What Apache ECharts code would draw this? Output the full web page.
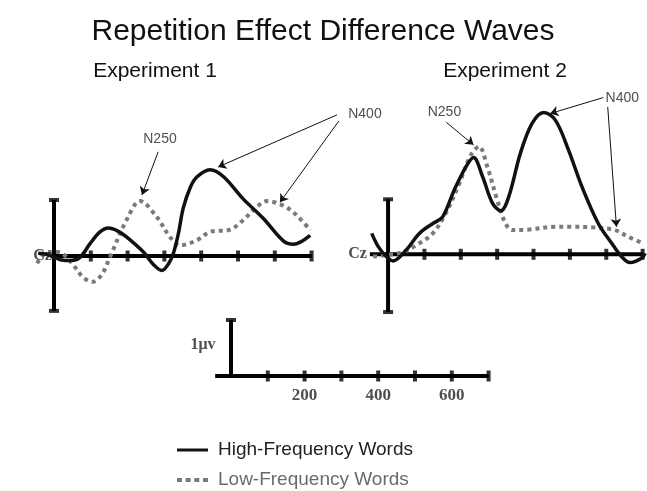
<!DOCTYPE html>
<html>
<head>
<meta charset="UTF-8">
<title>Repetition Effect Difference Waves</title>
<script src="https://cdn.jsdelivr.net/npm/echarts@6/dist/echarts.min.js"></script>
<style>
    body { margin: 0; background: #fff; }
    #main { width: 647px; height: 491px; }
</style>
</head>
<body>
<div id="main"></div>
<script>
    // difference waves: time (ms), amplitude (uV)
    var exp1HighTime = [-43, -20, 0, 20, 45, 70, 98, 125, 148, 175, 197, 243, 270, 293, 310, 324, 338, 351, 370, 388, 424, 460, 514, 569, 623, 650, 696];
    var exp1High     = [0.05, 0.03, -0.02, -0.07, -0.08, -0.03, 0.22, 0.43, 0.5, 0.44, 0.34, 0.07, -0.15, -0.26, -0.15, 0.04, 0.4, 0.85, 1.22, 1.41, 1.54, 1.42, 1.02, 0.67, 0.27, 0.21, 0.37];
    var exp1LowTime  = [-46, -16, 10, 22, 49, 79, 105, 130, 152, 197, 234, 279, 315, 342, 388, 424, 478, 514, 551, 578, 623, 659, 696];
    var exp1Low      = [-0.13, 0.07, 0.07, 0.05, -0.13, -0.38, -0.46, -0.33, -0.02, 0.64, 0.98, 0.7, 0.34, 0.19, 0.28, 0.43, 0.47, 0.64, 0.875, 0.98, 0.9, 0.73, 0.46];

    var exp2HighTime = [-45, -27, -5, 14, 50, 86, 123, 150, 182, 214, 235, 260, 287, 310, 332, 364, 396, 428, 460, 496, 533, 578, 615, 642, 665, 697, 707];
    var exp2High     = [0.38, 0.14, -0.04, -0.12, 0.08, 0.38, 0.56, 0.68, 1.17, 1.59, 1.76, 1.41, 0.93, 0.79, 1.05, 1.84, 2.38, 2.58, 2.44, 1.9, 1.23, 0.56, 0.2, -0.04, -0.15, -0.07, 0.02];
    var exp2LowTime  = [-41, 0, 41, 86, 123, 159, 196, 228, 250, 273, 300, 323, 342, 387, 460, 505, 560, 624, 660, 701];
    var exp2Low      = [-0.04, -0.01, 0.04, 0.2, 0.38, 0.75, 1.29, 1.81, 1.96, 1.59, 0.99, 0.56, 0.44, 0.45, 0.5, 0.5, 0.49, 0.44, 0.32, 0.2];

    var tickMs = [100, 200, 300, 400, 500, 600, 700];
    var scaleLabels = [200, 400, 600];

    var HIGH = 'High-Frequency Words';
    var LOW = 'Low-Frequency Words';
    var sans = '"Liberation Sans", Arial, sans-serif';
    var serif = '"Liberation Serif", "Times New Roman", serif';
    var highColor = '#111';
    var lowColor = '#7a7a7a';

    function pairs(t, v) {
        return t.map(function (x, i) { return [x, v[i]]; });
    }

    // axis drawn like the original: thick line, crossing ticks, end caps
    function axisSeries(g, xStart, yBottom, yTop, caps) {
        return [
            { type: 'line', xAxisIndex: g, yAxisIndex: g, data: [[xStart, 0], [700, 0]], symbol: 'none', silent: true, clip: false,
              lineStyle: { color: '#000', width: 4 }, z: 2 },
            { type: 'line', xAxisIndex: g, yAxisIndex: g, data: [[0, yBottom], [0, yTop]], symbol: 'none', silent: true, clip: false,
              lineStyle: { color: '#000', width: 4 }, z: 2 },
            { type: 'scatter', xAxisIndex: g, yAxisIndex: g, data: tickMs.map(function (t) { return [t, 0]; }), symbol: 'rect',
              symbolSize: [4, 11], itemStyle: { color: '#000' }, silent: true, clip: false, z: 2 },
            { type: 'scatter', xAxisIndex: g, yAxisIndex: g, data: caps, symbol: 'rect',
              symbolSize: [10, 4], itemStyle: { color: '#000' }, silent: true, clip: false, z: 2 }
        ];
    }

    function waves(g, hi, lo) {
        return [
            { name: LOW, type: 'line', xAxisIndex: g, yAxisIndex: g, data: lo, symbol: 'none', smooth: 0.35, clip: false,
              itemStyle: { color: lowColor },
              lineStyle: { color: lowColor, width: 4, type: [4, 4], cap: 'butt' }, z: 3 },
            { name: HIGH, type: 'line', xAxisIndex: g, yAxisIndex: g, data: hi, symbol: 'none', smooth: 0.35, clip: false,
              itemStyle: { color: highColor },
              lineStyle: { color: highColor, width: 3.5 }, z: 4 }
        ];
    }

    // text notes and arrows, placed in the panel's data coordinates
    // text entry: [x, y, text, position, distance, fontSize, fontWeight, fontFamily]
    function notes(g, texts, arrows) {
        return {
            type: 'scatter', xAxisIndex: g, yAxisIndex: g, symbolSize: 0, silent: true, clip: false, z: 5,
            data: texts.map(function (t) {
                return { value: [t[0], t[1]], label: { show: true, formatter: t[2], position: t[3] || 'inside',
                    distance: t[4] || 0, color: '#222', fontFamily: t[7] || sans, fontSize: t[5] || 14,
                    fontWeight: t[6] || 'normal' } };
            }),
            markLine: {
                silent: true, symbol: ['none', 'arrow'], symbolSize: 8, animation: false,
                label: { show: false },
                lineStyle: { color: '#111', width: 1, type: 'solid' },
                data: arrows.map(function (a) { return [{ coord: a[0] }, { coord: a[1] }]; })
            }
        };
    }

    var chart = echarts.init(document.getElementById('main'), null, { renderer: 'canvas' });

    var hiddenX = { type: 'value', show: false };
    var hiddenY = { type: 'value', show: false };

    var series = []
        .concat(axisSeries(0, -8, -0.98, 1, [[0, 1], [0, -0.98]]))
        .concat(waves(0, pairs(exp1HighTime, exp1High), pairs(exp1LowTime, exp1Low)))
        .concat([notes(0,
            [[288, 2.09, 'N250'], [845, 2.54, 'N400'], [-6, 0, 'Cz', 'left', 0, 16, 'bold', serif]],
            [[[283, 1.86], [239, 1.09]], [[769, 2.52], [446, 1.59]], [[774, 2.41], [614, 0.96]]])])
        .concat(axisSeries(1, -50, -1.05, 1, [[0, 1], [0, -1.05]]))
        .concat(waves(1, pairs(exp2HighTime, exp2High), pairs(exp2LowTime, exp2Low)))
        .concat([notes(1,
            [[155, 2.59, 'N250'], [644, 2.84, 'N400'], [-50, 0, 'Cz', 'left', 3, 16, 'bold', serif]],
            [[[160, 2.40], [235, 1.99]], [[592, 2.85], [446, 2.56]], [[604, 2.68], [628, 0.50]]])])
        .concat(axisSeries(2, -43, 0, 1, [[0, 1]]))
        .concat([notes(2,
            scaleLabels.map(function (v) { return [v, 0, String(v), 'bottom', 11, 17, 'bold', serif]; })
                .concat([[-76, 0.55, '1\u03bcv', 'inside', 0, 16, 'bold', serif]]),
            [])]);

    var option = {
        animation: false,
        backgroundColor: '#fff',
        title: [
            { text: 'Repetition Effect Difference Waves', left: 323, top: 17, padding: 0, textAlign: 'center',
              textStyle: { fontFamily: sans, fontSize: 30, fontWeight: 'normal', color: '#111' } },
            { text: 'Experiment 1', left: 155, top: 61, padding: 0, textAlign: 'center',
              textStyle: { fontFamily: sans, fontSize: 21, fontWeight: 'normal', color: '#111' } },
            { text: 'Experiment 2', left: 505, top: 61, padding: 0, textAlign: 'center',
              textStyle: { fontFamily: sans, fontSize: 21, fontWeight: 'normal', color: '#111' } }
        ],
        legend: {
            orient: 'vertical', left: 177, top: 439, height: 80, padding: 0,
            itemWidth: 31, itemHeight: 4, itemGap: 8,
            selectedMode: false,
            textStyle: { fontFamily: sans, fontSize: 19, lineHeight: 22, padding: [0, 0, 0, 5] },
            data: [
                { name: HIGH, icon: 'path://M0,0h31v3h-31z', itemStyle: { color: highColor },
                  textStyle: { color: '#222' } },
                { name: LOW, icon: 'path://M0,0h5v4h-5zM8.7,0h5v4h-5zM17.3,0h5v4h-5zM26,0h5v4h-5z',
                  itemStyle: { color: lowColor }, textStyle: { color: '#6a6a6a' } }
            ]
        },
        grid: [
            { left: 30.08, top: 102, width: 355.12, height: 224 },
            { left: 351.7, top: 83.8, width: 297.2, height: 236.5 },
            { left: 194.2, top: 308.8, width: 312.8, height: 100.8 }
        ],
        xAxis: [
            Object.assign({ gridIndex: 0, min: -65, max: 900 }, hiddenX),
            Object.assign({ gridIndex: 1, min: -100, max: 712 }, hiddenX),
            Object.assign({ gridIndex: 2, min: -100, max: 750 }, hiddenX)
        ],
        yAxis: [
            Object.assign({ gridIndex: 0, min: -1.25, max: 2.75 }, hiddenY),
            Object.assign({ gridIndex: 1, min: -1.2, max: 3.1 }, hiddenY),
            Object.assign({ gridIndex: 2, min: -0.6, max: 1.2 }, hiddenY)
        ],
        series: series
    };

    chart.setOption(option);
</script>
</body>
</html>
